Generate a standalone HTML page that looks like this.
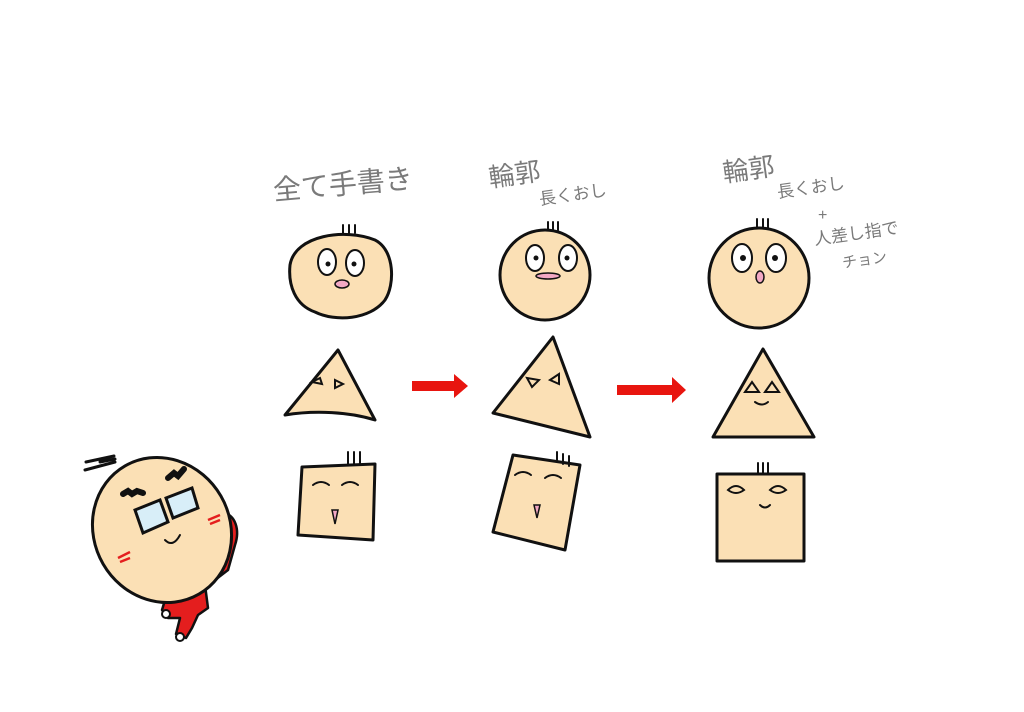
<!DOCTYPE html>
<html><head><meta charset="utf-8"><style>
html,body{margin:0;padding:0;background:#fff;}
svg{display:block}
text{font-family:"Liberation Sans","Noto Sans CJK JP",sans-serif;fill:#7a7a7a;}
</style></head><body>
<svg width="1024" height="712" viewBox="0 0 1024 712" xmlns="http://www.w3.org/2000/svg">
<!-- mascot body (behind head) -->
<g fill="#e41e1e" stroke="#111" stroke-width="2.5" stroke-linejoin="round">
<path d="M222 512 C236 515 240 530 235 545 L228 570 L215 580 Z"/>
<path d="M168 590 L205 585 L208 608 L198 615 L192 628 L186 638 L176 634 L180 618 L168 618 L162 610 Z"/>
</g>
<g fill="#fff" stroke="#111" stroke-width="2"><circle cx="166" cy="614" r="4"/><circle cx="180" cy="637" r="4"/></g>
<g stroke="#111" stroke-width="3" fill="#fbe0b5" stroke-linejoin="round" stroke-linecap="round">
<!-- column 1 -->
<path d="M290 265 C295 235 345 228 375 240 C395 250 395 285 385 300 C370 320 335 322 315 312 C295 305 288 285 290 265Z"/>
<path d="M285 415 L338 350 L375 420 C350 412 315 410 285 415Z"/>
<path d="M302 467 L375 464 L373 540 L298 535Z"/>
<!-- column 2 -->
<circle cx="545" cy="275" r="45"/>
<path d="M493 413 L553 337 L590 437Z"/>
<path d="M513 455 L580 465 L565 550 L493 532Z"/>
<!-- column 3 -->
<circle cx="759" cy="278" r="50"/>
<path d="M713 437 L763 349 L814 437Z"/>
<rect x="717" y="474" width="87" height="87"/>
<!-- mascot -->
<ellipse cx="162" cy="530" rx="68" ry="74" transform="rotate(-30 162 530)"/>
</g>
<g stroke="#111" stroke-width="2" fill="#fff">
<ellipse cx="327" cy="262" rx="9" ry="13"/><ellipse cx="355" cy="263" rx="9" ry="13"/>
<ellipse cx="535" cy="258" rx="9" ry="13"/><ellipse cx="568" cy="258" rx="9" ry="13"/>
<ellipse cx="742" cy="258" rx="10" ry="14"/><ellipse cx="776" cy="258" rx="10" ry="14"/>
</g>
<g stroke="#111" stroke-width="3" fill="#d8eef8">
<path d="M135 510 L160 500 L168 522 L143 533Z"/><path d="M166 498 L192 488 L198 508 L173 518Z"/>
</g>
<g fill="#111"><circle cx="328" cy="264" r="2.5"/><circle cx="354" cy="264" r="2.5"/><circle cx="536" cy="258" r="2.5"/><circle cx="567" cy="258" r="2.5"/><circle cx="743" cy="258" r="3"/><circle cx="775" cy="258" r="3"/></g>
<ellipse cx="342" cy="284" rx="7" ry="4" fill="#f2a8c4" stroke="#111" stroke-width="1.5"/>
<ellipse cx="548" cy="276" rx="12" ry="3" fill="#f2a8c4" stroke="#111" stroke-width="1.5"/>
<ellipse cx="760" cy="277" rx="4" ry="6" fill="#f2a8c4" stroke="#111" stroke-width="1.5"/>
<path d="M332 510 L338 510 L335 524Z" fill="#f2a8c4" stroke="#111" stroke-width="1.5"/>
<path d="M534 505 L540 505 L537 518Z" fill="#f2a8c4" stroke="#111" stroke-width="1.5"/>
<g stroke="#111" stroke-width="2" fill="none" stroke-linecap="round">
<path d="M343 233v-8M349 233v-8M355 233v-8"/><path d="M548 230v-8M553 230v-8M558 230v-8"/><path d="M757 228v-9M763 228v-9M768 228v-9"/>
<path d="M745 392l7-10 7 10zM765 392l7-10 7 10z"/><path d="M755 402q7 5 13 0"/>
<path d="M728 490q8-8 16 0q-8 6-16 0zM770 490q8-8 16 0q-8 6-16 0z"/><path d="M760 505q5 5 10 0"/>
<path d="M313 485q8-6 16 0M342 485q8-6 16 0"/><path d="M515 475q8-6 16 0M545 478q8-6 16 0"/>
<path d="M312 382l8-4 2 6zM335 380l8 4-8 4z"/><path d="M527 378l12 2-7 7zM550 380l9-6 0 10z"/>
<path d="M348 464v-12M354 464v-12M360 464v-12"/><path d="M557 462v-10M563 464v-10M569 466v-10"/><path d="M758 473v-10M763 473v-10M768 473v-10"/>
<path d="M85 470l30 -8M86 462l28 -6M100 462l15 -3" stroke-width="3"/><path d="M165 540q8 8 15 -5"/>
</g>
<g stroke="#111" stroke-width="6" fill="none" stroke-linecap="round">
<path d="M123 494l5-3 4 3 5-3 6 2"/><path d="M168 478l6-5 4 3 6-7"/>
</g>
<g stroke="#e41e1e" stroke-width="2.5" fill="none"><path d="M118 558l12-6M120 562l10-4"/><path d="M208 520l12-5M210 524l10-4"/></g>
<g fill="#e8150f">
<path d="M412 381h42v-7l14 12-14 12v-7h-42z"/>
<path d="M617 385h55v-8l14 13-14 13v-8h-55z"/>
</g>
<text x="274" y="200" font-size="28" transform="rotate(-5 274 200)">全て手書き</text>
<text x="490" y="187" font-size="26" transform="rotate(-8 490 187)">輪郭</text>
<text x="540" y="205" font-size="17" transform="rotate(-8 540 205)">長くおし</text>
<text x="724" y="182" font-size="26" transform="rotate(-8 724 182)">輪郭</text>
<text x="778" y="198" font-size="17" transform="rotate(-8 778 198)">長くおし</text>
<text x="818" y="220" font-size="16">+</text>
<text x="815" y="245" font-size="17" transform="rotate(-8 815 245)">人差し指で</text>
<text x="843" y="268" font-size="15" transform="rotate(-8 843 268)">チョン</text>
</svg>
</body></html>
